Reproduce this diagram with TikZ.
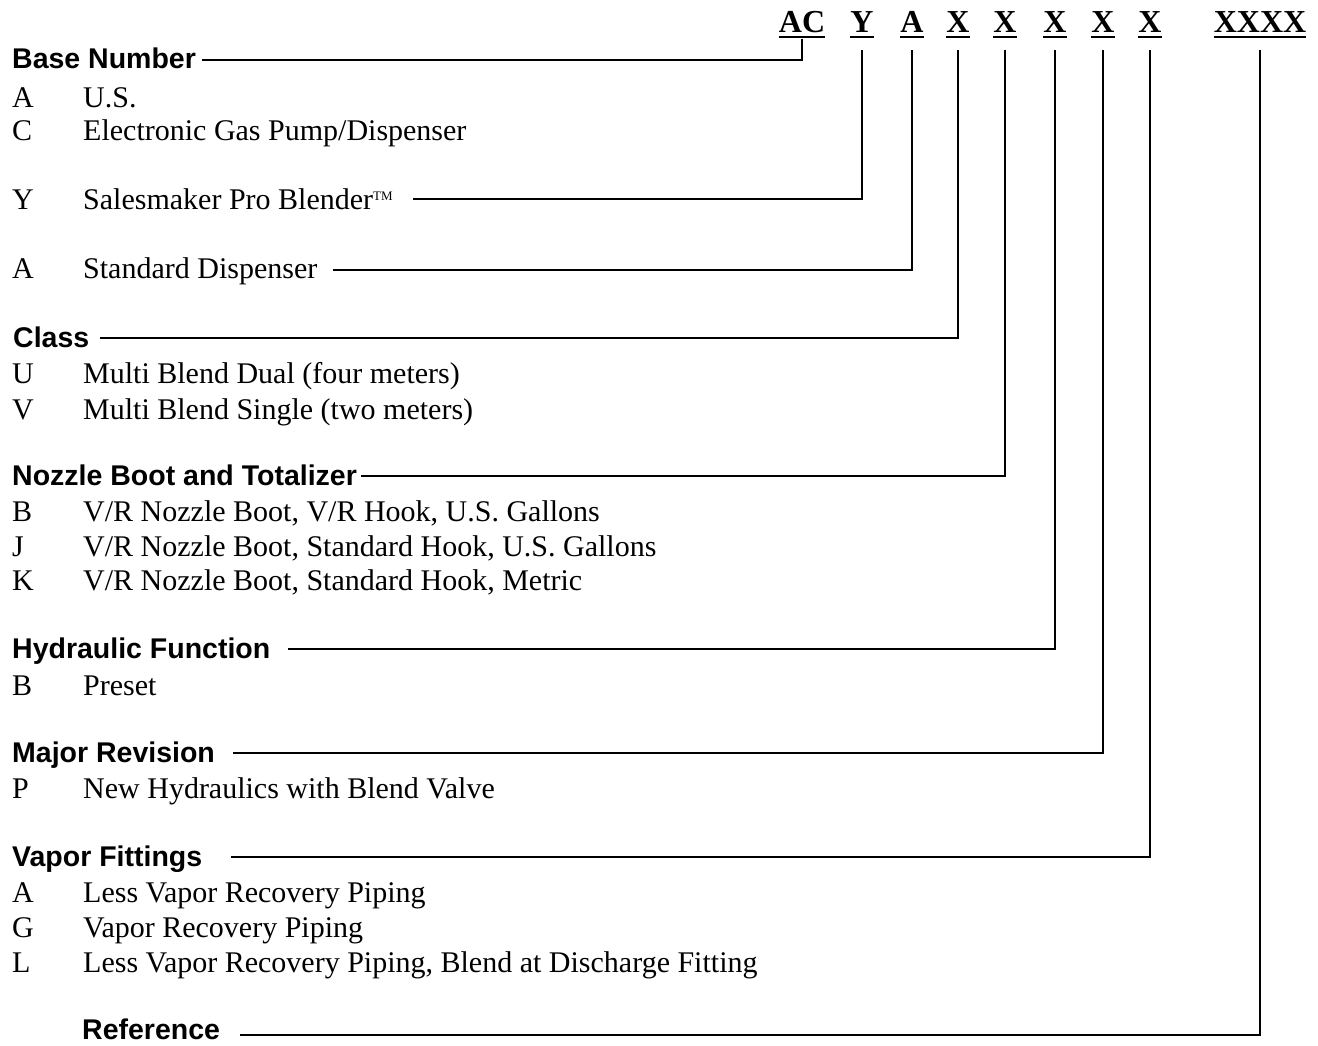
\documentclass[tikz,border=0pt]{standalone}
\usepackage{fontspec}
\setmainfont{Liberation Serif}
\setsansfont{Liberation Sans}
\tikzset{
	code/.style={font=\fontsize{32}{32}\selectfont\bfseries, inner sep=0pt, anchor=base},
	head/.style={font=\fontsize{28.5}{30}\selectfont\sffamily\bfseries, inner sep=0pt, anchor=base west},
	key/.style={font=\fontsize{30}{30}\selectfont, inner sep=0pt, anchor=base west},
	item/.style={font=\fontsize{30}{30}\selectfont, inner sep=0pt, anchor=base west},
	uline/.style={line width=2pt},
	conn/.style={line width=1.8pt},
}
\newcommand{\tmark}{\raisebox{9pt}{\fontsize{13}{13}\selectfont TM}}

\begin{document}
\begin{tikzpicture}[x=1pt,y=-1pt]
	\useasboundingbox (0,0) rectangle (1318,1046);

	\node[code] (cAC) at (802,33) {AC};
	\node[code] (cY) at (862,33) {Y};
	\node[code] (cA) at (912,33) {A};
	\node[code] (cXa) at (958,33) {X};
	\node[code] (cXb) at (1005,33) {X};
	\node[code] (cXc) at (1055,33) {X};
	\node[code] (cXd) at (1103,33) {X};
	\node[code] (cXe) at (1150,33) {X};
	\node[code] (cRef) at (1260,33) {XXXX};
	\foreach \n in {cAC,cY,cA,cXa,cXb,cXc,cXd,cXe,cRef}
		\draw[uline] ([yshift=-4pt]\n.base west) -- ([yshift=-4pt]\n.base east);

	\node[head] (hBase) at (12,69) {Base Number};
	\node[key] (kBaseA) at (12,108) {A};
	\node[item] (iBaseA) at (83,108) {U.S.};
	\node[key] (kBaseC) at (12,141) {C};
	\node[item] (iBaseC) at (83,141) {Electronic Gas Pump/Dispenser};
	\node[key] (kBaseY) at (12,209) {Y};
	\node[item] (iBaseY) at (83,209) {Salesmaker Pro Blender\tmark};
	\node[key] (kStd) at (12,278) {A};
	\node[item] (iStd) at (83,278) {Standard Dispenser};

	\node[head] (hClass) at (13,347) {Class};
	\node[key] (kClassU) at (12,383) {U};
	\node[item] (iClassU) at (83,383) {Multi Blend Dual (four meters)};
	\node[key] (kClassV) at (12,419) {V};
	\node[item] (iClassV) at (83,419) {Multi Blend Single (two meters)};

	\node[head] (hNozzle) at (12,485) {Nozzle Boot and Totalizer};
	\node[key] (kNozB) at (12,521) {B};
	\node[item] (iNozB) at (83,521) {V/R Nozzle Boot, V/R Hook, U.S. Gallons};
	\node[key] (kNozJ) at (12,556) {J};
	\node[item] (iNozJ) at (83,556) {V/R Nozzle Boot, Standard Hook, U.S. Gallons};
	\node[key] (kNozK) at (12,590) {K};
	\node[item] (iNozK) at (83,590) {V/R Nozzle Boot, Standard Hook, Metric};

	\node[head] (hHyd) at (12,658) {Hydraulic Function};
	\node[key] (kHydB) at (12,695) {B};
	\node[item] (iHydB) at (83,695) {Preset};

	\node[head] (hMajor) at (12,762) {Major Revision};
	\node[key] (kMajP) at (12,798) {P};
	\node[item] (iMajP) at (83,798) {New Hydraulics with Blend Valve};

	\node[head] (hVapor) at (12,866) {Vapor Fittings};
	\node[key] (kVapA) at (12,902) {A};
	\node[item] (iVapA) at (83,902) {Less Vapor Recovery Piping};
	\node[key] (kVapG) at (12,937) {G};
	\node[item] (iVapG) at (83,937) {Vapor Recovery Piping};
	\node[key] (kVapL) at (12,972) {L};
	\node[item] (iVapL) at (83,972) {Less Vapor Recovery Piping, Blend at Discharge Fitting};

	\node[head] (hRef) at (82,1039) {Reference};

	\draw[conn] ([yshift=-5pt]cAC.south) |- ([shift={(6pt,9pt)}]hBase.base east);
	\draw[conn] ([yshift=-17pt]cY.south) |- ([shift={(20pt,10pt)}]iBaseY.base east);
	\draw[conn] ([yshift=-17pt]cA.south) |- ([shift={(15pt,8pt)}]iStd.base east);
	\draw[conn] ([yshift=-17pt]cXa.south) |- ([shift={(11pt,9pt)}]hClass.base east);
	\draw[conn] ([yshift=-17pt]cXb.south) |- ([shift={(4pt,9pt)}]hNozzle.base east);
	\draw[conn] ([yshift=-17pt]cXc.south) |- ([shift={(17pt,9pt)}]hHyd.base east);
	\draw[conn] ([yshift=-17pt]cXd.south) |- ([shift={(18pt,9pt)}]hMajor.base east);
	\draw[conn] ([yshift=-17pt]cXe.south) |- ([shift={(29pt,9pt)}]hVapor.base east);
	\draw[conn] ([yshift=-17pt]cRef.south) |- ([shift={(20pt,4pt)}]hRef.base east);
\end{tikzpicture}
\end{document}
